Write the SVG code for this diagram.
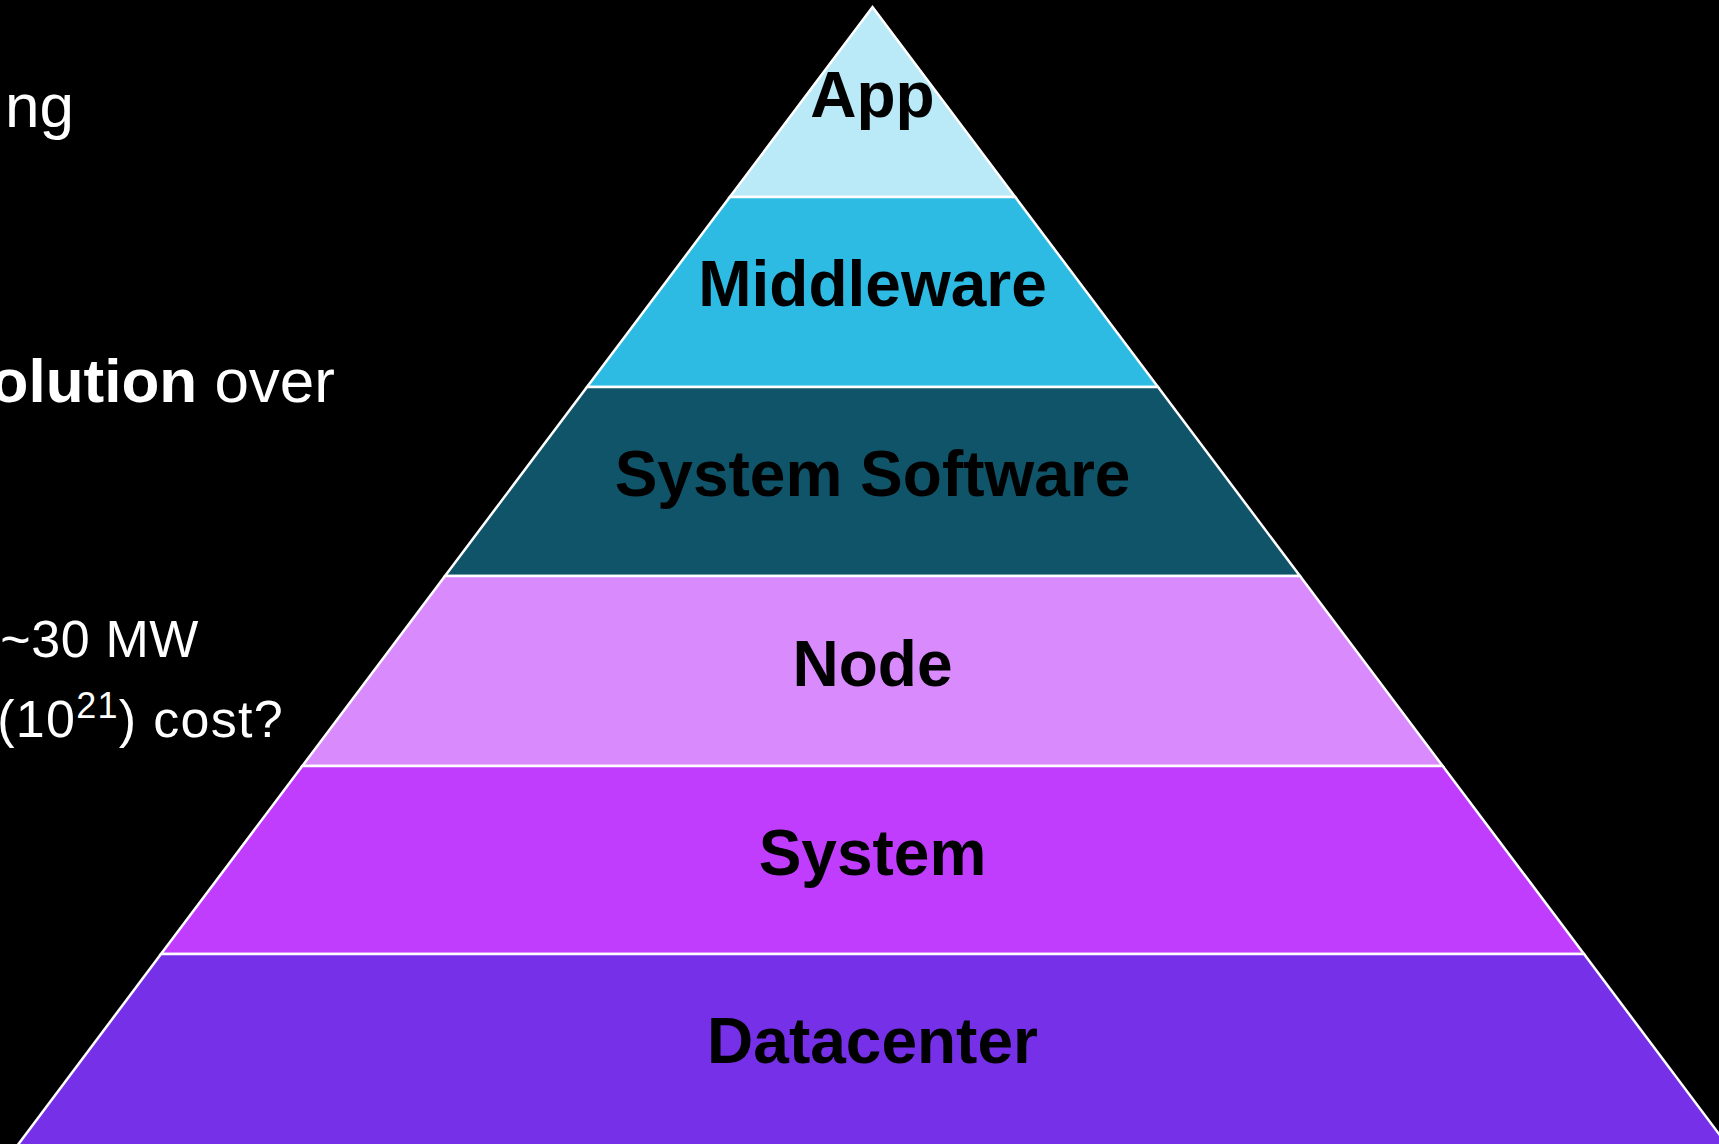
<svg xmlns="http://www.w3.org/2000/svg" width="1719" height="1144" viewBox="0 0 1719 1144">
  <style>
    .layer { stroke: #FFFFFF; stroke-width: 2.5; stroke-linejoin: miter; }
    .label { font-family: "Liberation Sans", Arial, sans-serif; font-weight: 700; font-size: 64px; fill: #000000; text-anchor: middle; }
    .body { font-family: "Liberation Sans", Arial, sans-serif; fill: #FFFFFF; text-anchor: end; }
  </style>

  <rect x="0" y="0" width="1719" height="1144" fill="#000000"/>

  <!-- bullet text on the left, cut by the left edge -->
  <g id="bullets">
    <text class="body" x="74" y="127" font-size="62">ng</text>
    <text class="body" x="335" y="402" font-size="62"><tspan font-weight="700">olution</tspan> over</text>
    <text class="body" x="199" y="657" font-size="52" letter-spacing="0.6">~30 MW</text>
    <text class="body" x="284" y="737" font-size="52" letter-spacing="1.3">(10<tspan font-size="36" dy="-19">21</tspan><tspan dy="19">) cost?</tspan></text>
  </g>

  <!-- stacked pyramid layers, top to bottom -->
  <g id="layer-app">
    <polygon class="layer" fill="#BAE9F7" points="872.5,7 1015.2,197 729.8,197"/>
    <text class="label" x="872.5" y="117">App</text>
  </g>
  <g id="layer-middleware">
    <polygon class="layer" fill="#2EBBE3" points="729.8,197 1015.2,197 1158,387 587,387"/>
    <text class="label" x="872.5" y="306">Middleware</text>
  </g>
  <g id="layer-system-software">
    <polygon class="layer" fill="#0F5468" points="587,387 1158,387 1300,576 445,576"/>
    <text class="label" x="872.5" y="496">System Software</text>
  </g>
  <g id="layer-node">
    <polygon class="layer" fill="#D98AFC" points="445,576 1300,576 1442.7,766 302.3,766"/>
    <text class="label" x="872.5" y="686">Node</text>
  </g>
  <g id="layer-system">
    <polygon class="layer" fill="#C03DFE" points="302.3,766 1442.7,766 1584,954 161,954"/>
    <text class="label" x="872.5" y="875">System</text>
  </g>
  <g id="layer-datacenter">
    <polygon class="layer" fill="#7630E7" points="161,954 1584,954 1740,1162 5,1162"/>
    <text class="label" x="872.5" y="1063">Datacenter</text>
  </g>
</svg>
